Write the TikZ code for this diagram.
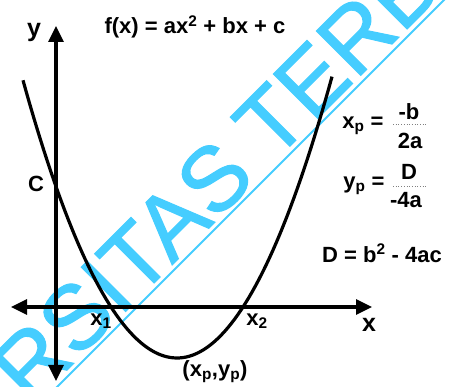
\documentclass[tikz,border=0pt]{standalone}
\usepackage{fontspec}
\setmainfont{Liberation Sans}
\newfontfamily\wmfont[FakeBold=1.2]{Liberation Sans}
\usetikzlibrary{arrows.meta}
\definecolor{wm}{HTML}{45CDFF}
\begin{document}
\begin{tikzpicture}[x=1pt,y=-1pt,
  lbl/.style={inner sep=0pt, font=\fontsize{22}{24}\selectfont\bfseries},
  big/.style={inner sep=0pt, font=\fontsize{25}{28}\selectfont\bfseries},
  axis/.style={line width=3.2pt, {Triangle[length=16pt,width=15pt]}-{Triangle[length=16pt,width=15pt]}},
  curve/.style={line width=3.2pt},
  wmtext/.style={text=wm, inner sep=0pt, rotate=45, font=\wmfont\fontsize{91}{93}\selectfont},
  fracline/.style={gray, dotted, line width=0.7pt}]
\useasboundingbox (0,0) rectangle (450,387);
\begin{scope}
\clip (0,0) rectangle (450,387);
% watermark
\node[wmtext, anchor=base west] (wmB) at (273,163) {TERBUKA};
\node[wmtext, anchor=base east] (wmA) at (258,179) {UNIVERSITAS};
\coordinate (ulA) at (470,-26);
\coordinate (ulB) at (-10,454);
\draw[wm, line width=2pt] (ulA) -- (ulB);
% axes
\coordinate (yb) at (56,381);
\coordinate (yt) at (56,26);
\coordinate (xl) at (11,307);
\coordinate (xr) at (372,307);
\draw[axis] (yb) -- (yt);
\draw[axis] (xl) -- (xr);
% parabola
\draw[curve] plot[domain=23:332, samples=90] (\x, {358-1.171*((\x-177)/10)^2});
\end{scope}
% labels
\node[big] (ylab) at (34,32) {y};
\node[big] (xlab) at (369,325) {x};
\node[lbl] (fx) at (195,27) {f(x) = ax\textsuperscript{2} + bx + c};
\node[lbl] (C) at (36,184) {C};
\node[lbl] (x1) at (101,321) {x\textsubscript{1}};
\node[lbl] (x2) at (257,321) {x\textsubscript{2}};
\node[lbl] (vert) at (215,372) {(x\textsubscript{p},y\textsubscript{p})};
% xp
\node[lbl] (xp) at (363,126) {x\textsubscript{p} =};
\node[lbl] (xpn) at (409,112) {-b};
\node[lbl] (xpd) at (410,141) {2a};
\coordinate (f1a) at (393,124);
\coordinate (f1b) at (427,124);
\draw[fracline] (f1a) -- (f1b);
% yp
\node[lbl] (yp) at (364,186) {y\textsubscript{p} =};
\node[lbl] (ypn) at (409,172) {D};
\node[lbl] (ypd) at (406,200) {-4a};
\coordinate (f2a) at (393,186);
\coordinate (f2b) at (427,186);
\draw[fracline] (f2a) -- (f2b);
% D
\node[lbl] (D) at (382,253) {D = b\textsuperscript{2} - 4ac};
\end{tikzpicture}
\end{document}
